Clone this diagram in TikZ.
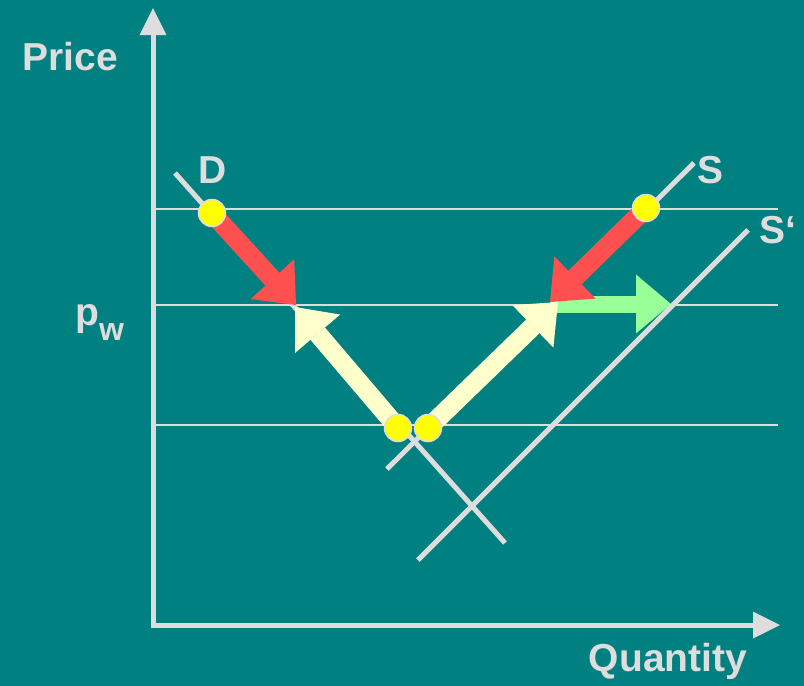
\documentclass[tikz,border=0pt]{standalone}
\usepackage{fontspec}
\setmainfont{Liberation Sans}
\usepackage{xcolor}
\definecolor{cBack}{HTML}{008080}
\definecolor{cLine}{HTML}{DDDDDD}
\definecolor{cDot}{HTML}{FFFF00}
\definecolor{cRed}{HTML}{FF5050}
\definecolor{cCream}{HTML}{FFFFCC}
\definecolor{cGreen}{HTML}{99FF99}
\usepackage{tikz}
\usetikzlibrary{arrows.meta,backgrounds}
\tikzset{
  axis-line/.style={draw=cLine,line width=5pt,
    -{Triangle[length=27pt,width=27pt,line width=0pt]}},
  curve-line/.style={draw=cLine,line width=5pt},
  price-line/.style={draw=cLine,line width=2pt},
  node-dot/.style={circle,draw=cLine,line width=1.5pt,fill=cDot,
    minimum size=27pt,inner sep=0pt},
  node-label/.style={text=cLine,inner sep=0pt,
    font=\fontsize{39}{39}\selectfont\bfseries},
  arrow-fat/.style={line width=19pt,
    -{Triangle[length=35pt,width=59pt,line width=0pt]}},
  arrow-red/.style={arrow-fat,draw=cRed},
  arrow-cream/.style={arrow-fat,draw=cCream},
  arrow-green/.style={arrow-fat,draw=cGreen,line width=17pt},
}

\begin{document}
\begin{tikzpicture}[x=1pt,y=-1pt]
  \useasboundingbox (0,0) rectangle (804,686);
  % equilibrium points
  \node[node-dot] (dotD) at (212,213) {};
  \node[node-dot] (dotS) at (646,208) {};
  \node[node-dot] (dotL) at (398,428) {};
  \node[node-dot] (dotR) at (428,428) {};
  % labels
  \node[node-label,anchor=base] (price) at (70,70) {Price};
  \node[node-label,anchor=base] (quantity) at (668,671) {Quantity};
  \node[node-label,anchor=base] (labD) at (213,183) {D};
  \node[node-label,anchor=base] (labS) at (711,183) {S};
  \node[node-label,anchor=base west] (labS2) at (759,243) {S‘};
  \node[node-label,anchor=base west] (labPw) at (75,325)
    {p{\fontsize{32}{32}\selectfont\raisebox{-15pt}{w}}};
  % arrow tips
  \coordinate (tipRedL) at (296,305);
  \coordinate (tipRedR) at (550,302);
  \coordinate (tipCreamL) at (295,307);
  \coordinate (tipCreamR) at (558,302);
  \coordinate (startGreen) at (553,304);
  \coordinate (tipGreen) at (671,304);
  \begin{scope}[on background layer]
    \fill[cBack] (0,0) rectangle (804,686);
    \foreach \y in {209,305,425}
      \draw[price-line] (155,\y) -- (778,\y);
    \draw[curve-line] (175,173) -- (505,543);
    \draw[curve-line] (387,469) -- (694,163);
    \draw[curve-line] (418,560) -- (748,230);
    \draw[axis-line] (153,627) -- (153,8);
    \draw[axis-line] (151,625) -- (780,625);
    \draw[arrow-green] (startGreen) -- (tipGreen);
    \draw[arrow-red] (dotD.center) -- (tipRedL);
    \draw[arrow-red] (dotS.center) -- (tipRedR);
    \draw[arrow-cream] (dotL.center) -- (tipCreamL);
    \draw[arrow-cream] (dotR.center) -- (tipCreamR);
  \end{scope}
\end{tikzpicture}
\end{document}
